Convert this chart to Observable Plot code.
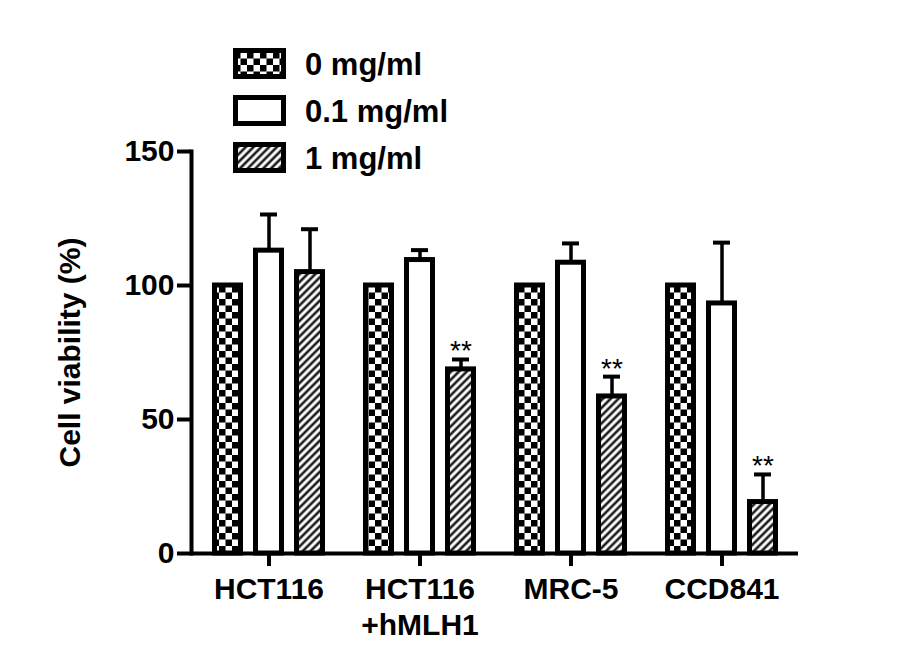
<!DOCTYPE html>
<html>
<head>
<meta charset="utf-8">
<script src="https://cdn.jsdelivr.net/npm/d3@7"></script>
<script src="https://cdn.jsdelivr.net/npm/@observablehq/plot@0.6"></script>
<style>
  html, body { margin: 0; padding: 0; background: #fff; }
  svg { display: block; }
</style>
</head>
<body>
<div id="chart"></div>
<script>
// ---- data ----
const cells = ["HCT116", "HCT116\n+hMLH1", "MRC-5", "CCD841"];
const doses = ["0 mg/ml", "0.1 mg/ml", "1 mg/ml"];
const values0 = [100, 100, 100, 100];
const errors0 = [0, 0, 0, 0];
const values01 = [113, 109.5, 108.5, 93.3];
const errors01 = [13.5, 3.7, 7.2, 22.7];
const values1 = [105, 68.7, 58.6, 19.2];
const errors1 = [16, 3.7, 7.4, 10.3];
const significant1 = [false, true, true, true];
const yTicks = [0, 50, 100, 150];
const yTitle = "Cell viability (%)";

const seriesValues = [values0, values01, values1];
const seriesErrors = [errors0, errors01, errors1];
const rows = doses.flatMap((d, j) => cells.map((c, i) => ({
  cell: c, dose: d, value: seriesValues[j][i], err: seriesErrors[j][i],
  sig: j === 2 && significant1[i]
})));

// ---- style ----
const fills = ["url(#checker)", "white", "url(#hatch)"];
const offsets = [-41, 0, 41];
const font = "'Liberation Sans', Arial, Helvetica, sans-serif";

const marks = [];
doses.forEach((d, j) => {
  const data = rows.filter(r => r.dose === d);
  const withErr = data.filter(r => r.err > 0);
  marks.push(
    Plot.ruleX(withErr, {x: "cell", y1: "value", y2: r => r.value + r.err, dx: offsets[j], stroke: "black", strokeWidth: 3.5}),
    Plot.tickY(withErr, {x: "cell", y: r => r.value + r.err, dx: offsets[j], insetLeft: 67, insetRight: 67, stroke: "black", strokeWidth: 4}),
    Plot.barY(data, {x: "cell", y: "value", dx: offsets[j], insetLeft: 62.5, insetRight: 62.5, fill: fills[j], stroke: "black", strokeWidth: 5})
  );
});
marks.push(
  Plot.text(rows.filter(r => r.sig), {x: "cell", y: r => r.value + r.err, dx: offsets[2], dy: 1, text: () => "**", fontSize: 28, fontWeight: "normal", lineAnchor: "bottom", fill: "black"}),
  Plot.ruleY([0], {stroke: "black", strokeWidth: 4}),
  Plot.frame({anchor: "left", stroke: "black", strokeWidth: 4}),
  Plot.axisY({ticks: yTicks, tickSize: 14, tickPadding: 3, strokeWidth: 4, fontSize: 30, fontWeight: "bold",
              label: yTitle, labelAnchor: "center", labelOffset: 133, labelArrow: false}),
  Plot.axisX({tickSize: 13, tickPadding: 7, strokeWidth: 4, fontSize: 30, fontWeight: "bold", lineHeight: 1.2, label: null})
);

const chart = Plot.plot({
  width: 903,
  height: 665,
  marginLeft: 191,
  marginRight: 105,
  marginTop: 151,
  marginBottom: 112,
  style: {fontFamily: font, fontWeight: "bold", color: "black", background: "white"},
  x: {domain: cells, padding: 0, align: 0.5},
  y: {domain: [0, 150]},
  marks
});
document.getElementById("chart").appendChild(chart);

// ---- patterns & legend ----
const svg = d3.select(chart);
const defs = svg.insert("defs", ":first-child");
const cs = 6.5;
const checker = defs.append("pattern").attr("id", "checker").attr("patternUnits", "userSpaceOnUse")
  .attr("width", cs * 2).attr("height", cs * 2);
checker.append("rect").attr("width", cs * 2).attr("height", cs * 2).attr("fill", "white");
checker.append("rect").attr("width", cs).attr("height", cs).attr("fill", "black");
checker.append("rect").attr("x", cs).attr("y", cs).attr("width", cs).attr("height", cs).attr("fill", "black");

const hs = 5.5;
const hatch = defs.append("pattern").attr("id", "hatch").attr("patternUnits", "userSpaceOnUse")
  .attr("width", hs).attr("height", hs).attr("patternTransform", "rotate(45)");
hatch.append("rect").attr("width", hs).attr("height", hs).attr("fill", "white");
hatch.append("line").attr("x1", hs / 2).attr("x2", hs / 2).attr("y1", 0).attr("y2", hs)
  .attr("stroke", "#1a1a1a").attr("stroke-width", 2.6);

const legend = svg.append("g").attr("font-family", font).attr("font-weight", "bold")
  .attr("font-size", 31).attr("text-anchor", "start");
doses.forEach((d, j) => {
  const cy = 63.5 + j * 47;
  legend.append("rect").attr("x", 235.5).attr("y", cy - 13).attr("width", 48).attr("height", 26)
    .attr("fill", fills[j]).attr("stroke", "black").attr("stroke-width", 5);
  legend.append("text").attr("x", 305).attr("y", cy).attr("dy", "0.36em").attr("fill", "black")
    .attr("text-anchor", "start").text(d);
});
</script>
</body>
</html>
